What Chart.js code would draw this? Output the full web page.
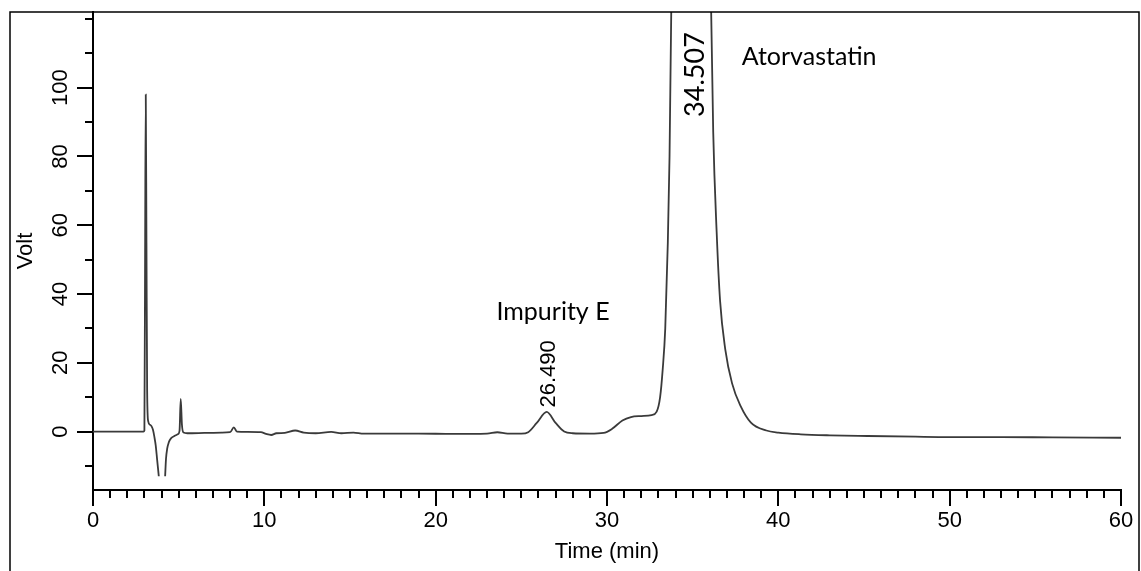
<!DOCTYPE html>
<html>
<head>
<meta charset="utf-8">
<script src="https://cdn.jsdelivr.net/npm/chart.js@4"></script>
<style>
    html, body { margin: 0; padding: 0; background: #fff; }
</style>
</head>
<body>
<canvas id="cromatograma" width="1141" height="571"></canvas>
<script>
const tiempo = [
    0, 1, 2, 2.95, 3.0, 3.04, 3.08, 3.12, 3.16, 3.22, 3.32, 3.42, 3.5, 3.58, 3.66, 3.74, 3.84,
    4.0,
    4.21, 4.26, 4.33, 4.42, 4.55, 4.75, 4.95, 5.05, 5.12, 5.19, 5.28, 5.5, 6.5, 7.5, 8.0, 8.22, 8.4,
    9.0, 9.8, 10.1, 10.4, 10.7, 11.2, 11.8, 12.3, 13.0, 13.9, 14.5, 15.2, 15.8, 17, 19, 21, 23,
    23.6, 24.2, 25.0, 25.4, 25.9, 26.48, 27.0, 27.5, 28.0, 29.0, 29.8, 30.3, 30.9, 31.4, 32.0,
    32.6, 32.9, 33.1, 33.25, 33.4, 33.55, 33.65, 33.75, 34.6, 36.08, 36.2, 36.4, 36.6, 36.9,
    37.3, 37.8, 38.4, 39.3, 40, 41.3, 43, 45.2, 48, 50, 53, 56, 60
];
const voltaje = [
    0, 0, 0, 0, 0.3, 50, 98, 55, 12, 3, 2, 1.5, 0.5, -1.5, -4, -8, -13,
    null,
    -13, -8, -5, -3.2, -2, -1.3, -0.8, 0.2, 9.5, 2, -0.3, -0.5, -0.4, -0.3, -0.2, 1.2, 0,
    -0.1, -0.2, -0.7, -1.0, -0.5, -0.4, 0.3, -0.3, -0.5, -0.1, -0.5, -0.3, -0.6, -0.6, -0.6, -0.7, -0.6,
    -0.2, -0.6, -0.6, -0.2, 2.5, 5.7, 2.5, 0.0, -0.5, -0.6, -0.4, 0.8, 3.2, 4.2, 4.5,
    4.8, 5.8, 10, 18, 30, 55, 80, 122, 700, 122, 87, 58, 38, 24,
    14, 7.4, 2.6, 0.3, -0.3, -0.8, -1.1, -1.3, -1.5, -1.6, -1.6, -1.7, -1.8
];

const ticksX = [0, 10, 20, 30, 40, 50, 60];
const ticksY = [0, 20, 40, 60, 80, 100];

// peak labels: retention time text, x (min), y (Volt) where the rotated text starts
const picosTexto = ['26.490', '34.507'];
const picosX = [26.48, 35.09];
const picosY = [7.0, 91.5];

const compuestos = ['Impurity E', 'Atorvastatin'];
const compuestosX = [26.85, 41.8];
const compuestosY = [34.9, 109];

(() => {
    const ejes = {
        id: 'ejes',
        afterDraw(chart) {
            const { ctx, chartArea } = chart;
            const x = chart.scales.x;
            const y = chart.scales.y;
            ctx.save();
            ctx.strokeStyle = '#000';
            ctx.fillStyle = '#000';

            // outer frame
            ctx.lineWidth = 1.5;
            ctx.beginPath();
            ctx.moveTo(10, chart.height);
            ctx.lineTo(10, chartArea.top);
            ctx.lineTo(1139, chartArea.top);
            ctx.lineTo(1139, chart.height);
            ctx.stroke();

            // tick marks
            ctx.lineWidth = 2;
            ctx.beginPath();
            for (let t = 0; t <= 60; t++) {
                const px = Math.round(x.getPixelForValue(t));
                const largo = ticksX.includes(t) ? 16 : 8;
                ctx.moveTo(px, chartArea.bottom);
                ctx.lineTo(px, chartArea.bottom + largo);
            }
            for (let v = -10; v <= 120; v += 10) {
                const py = Math.round(y.getPixelForValue(v));
                const largo = ticksY.includes(v) ? 16 : 8;
                ctx.moveTo(chartArea.left, py);
                ctx.lineTo(chartArea.left - largo, py);
            }
            ctx.stroke();

            // rotated y labels
            ctx.font = '22px "Liberation Sans", Arial, sans-serif';
            ctx.textAlign = 'center';
            ctx.textBaseline = 'alphabetic';
            ticksY.forEach(v => {
                ctx.save();
                ctx.translate(67, y.getPixelForValue(v));
                ctx.rotate(-Math.PI / 2);
                ctx.fillText(String(v), 0, 0);
                ctx.restore();
            });

            // retention times
            ctx.textAlign = 'left';
            picosTexto.forEach((txt, i) => {
                ctx.save();
                if (i === 0) {
                    ctx.font = '22px "Liberation Sans", Arial, sans-serif';
                    ctx.translate(x.getPixelForValue(picosX[i]) + 8, y.getPixelForValue(picosY[i]));
                } else {
                    ctx.font = '27px Lato, sans-serif';
                    ctx.translate(x.getPixelForValue(picosX[i]) + 10, y.getPixelForValue(picosY[i]));
                }
                ctx.rotate(-Math.PI / 2);
                ctx.fillText(txt, 0, 0);
                ctx.restore();
            });

            // compound names
            ctx.font = '25px Lato, sans-serif';
            ctx.textAlign = 'center';
            ctx.textBaseline = 'middle';
            compuestos.forEach((txt, i) => {
                ctx.fillText(txt, x.getPixelForValue(compuestosX[i]), y.getPixelForValue(compuestosY[i]));
            });
            ctx.restore();
        }
    };

    const ctx = document.getElementById('cromatograma').getContext('2d');
    const grafica = new Chart(ctx, {
        type: 'line',
        data: {
            datasets: [{
                data: tiempo.map((t, i) => ({ x: t, y: voltaje[i] })),
                borderColor: '#3a3a3a',
                borderWidth: 1.8,
                pointRadius: 0,
                cubicInterpolationMode: 'monotone',
                spanGaps: false,
                fill: false
            }]
        },
        options: {
            responsive: false,
            animation: false,
            layout: {
                padding: { left: 0, top: 12, right: 20, bottom: 0 }
            },
            scales: {
                x: {
                    type: 'linear',
                    min: 0,
                    max: 60,
                    afterFit: s => {
                        s.height = 81;
                        s.paddingLeft = 0;
                        s.paddingRight = 0;
                    },
                    afterBuildTicks: s => { s.ticks = ticksX.map(v => ({ value: v })); },
                    ticks: {
                        color: '#000',
                        padding: 18,
                        maxRotation: 0,
                        autoSkip: false,
                        font: { family: '"Liberation Sans", Arial, sans-serif', size: 22 }
                    },
                    grid: { display: false, drawTicks: false },
                    border: { display: true, color: '#000', width: 2 },
                    title: {
                        display: true,
                        text: 'Time (min)',
                        color: '#000',
                        font: { family: '"Liberation Sans", Arial, sans-serif', size: 22 },
                        padding: { top: 0, bottom: 6 }
                    }
                },
                y: {
                    min: -17,
                    max: 122,
                    afterFit: s => { s.width = 93; },
                    ticks: { display: false },
                    grid: { display: false, drawTicks: false },
                    border: { display: true, color: '#000', width: 2 },
                    title: {
                        display: true,
                        text: 'Volt',
                        color: '#000',
                        font: { family: '"Liberation Sans", Arial, sans-serif', size: 22 },
                        padding: { top: 13, bottom: 0 }
                    }
                }
            },
            plugins: {
                legend: { display: false },
                tooltip: { enabled: false }
            }
        },
        plugins: [ejes]
    });
})();
</script>
</body>
</html>
